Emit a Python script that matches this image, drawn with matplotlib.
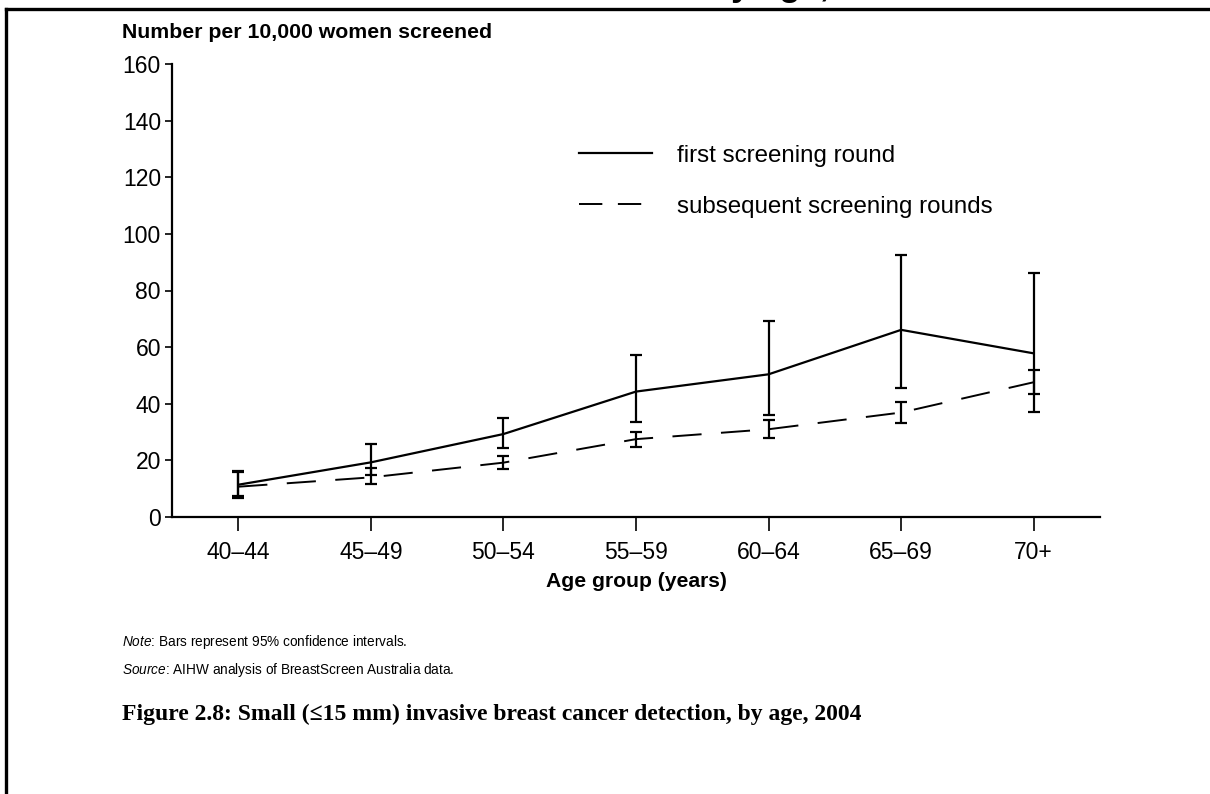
import matplotlib
matplotlib.use("Agg")
import matplotlib.pyplot as plt
from matplotlib.lines import Line2D
import numpy as np

plt.rcParams["font.family"] = ["Liberation Sans", "DejaVu Sans"]
plt.rcParams["mathtext.fontset"] = "custom"
plt.rcParams["mathtext.rm"] = "Liberation Sans"
plt.rcParams["mathtext.it"] = "Liberation Sans:italic"

# data
age_groups = ["40–44", "45–49", "50–54", "55–59", "60–64", "65–69", "70+"]
first_rate = [11.4, 19.3, 29.3, 44.3, 50.4, 66.1, 57.8]
first_low = [7.5, 14.8, 24.5, 33.7, 36.0, 45.5, 37.0]
first_high = [16.3, 25.8, 34.9, 57.2, 69.3, 92.7, 86.1]
subseq_rate = [10.7, 14.0, 19.2, 27.5, 31.0, 36.9, 47.6]
subseq_low = [6.6, 11.6, 16.9, 24.8, 28.0, 33.3, 43.5]
subseq_high = [16.0, 17.2, 21.5, 30.1, 34.3, 40.5, 51.9]
y_ticks = [0, 20, 40, 60, 80, 100, 120, 140, 160]

fig = plt.figure(figsize=(12.1, 7.94), dpi=100)
ax = fig.add_axes([172 / 1210, 1 - 517 / 794, 928 / 1210, 453 / 794])

x = np.arange(len(age_groups))
first_err = [np.subtract(first_rate, first_low), np.subtract(first_high, first_rate)]
subseq_err = [np.subtract(subseq_rate, subseq_low), np.subtract(subseq_high, subseq_rate)]

ax.errorbar(x, first_rate, yerr=first_err, color="black", lw=1.6,
            elinewidth=1.6, capsize=4.5, capthick=1.6)
ax.errorbar(x, subseq_rate, yerr=subseq_err, color="black", lw=1.4,
            linestyle=(0, (15, 10)), elinewidth=1.6, capsize=4.5,
            capthick=1.6)

ax.set_xlim(-0.5, 6.5)
ax.set_ylim(0, 160)
ax.set_xticks(x)
ax.set_xticklabels(age_groups)
ax.set_yticks(y_ticks)
ax.tick_params(axis="y", length=5, width=1.2, labelsize=16.5, pad=3)
ax.tick_params(axis="x", length=10, width=1.2, labelsize=16.5, pad=7)
for side in ["top", "right"]:
    ax.spines[side].set_visible(False)
for side in ["left", "bottom"]:
    ax.spines[side].set_linewidth(1.6)

ax.set_xlabel("Age group (years)", fontsize=15.2, fontweight="bold", labelpad=6)
fig.text(122 / 1210, 1 - 32 / 794, "Number per 10,000 women screened",
         fontsize=15.3, fontweight="bold", va="center", ha="left")

# legend handles (dashed line without caps)
handles = [Line2D([], [], color="black", lw=1.6),
           Line2D([], [], color="black", lw=1.4, linestyle=(0, (12, 8)))]
ax.legend(handles, ["first screening round", "subsequent screening rounds"],
          loc="upper left", bbox_to_anchor=((579 - 172) / 928, 0.822),
          frameon=False, fontsize=17.4, handlelength=3.0, handletextpad=1.05,
          labelspacing=1.2, borderaxespad=0, borderpad=0)

# notes and caption
fig.text(122 / 1210, 1 - 642 / 794,
         r"$\it{Note}$: Bars represent 95% confidence intervals.",
         fontsize=9.8, va="center", ha="left")
fig.text(122 / 1210, 1 - 670 / 794,
         r"$\it{Source}$: AIHW analysis of BreastScreen Australia data.",
         fontsize=9.8, va="center", ha="left")
fig.text(122 / 1210, 1 - 714 / 794,
         "Figure 2.8: Small (≤15 mm) invasive breast cancer detection, by age, 2004",
         fontsize=17, fontweight="bold", va="center", ha="left",
         family=["Liberation Serif", "DejaVu Serif"])

# cut-off heading from the page above (only descenders show)
fig.text(710 / 1210, 1 + 4.0 / 794, "by age, 2004", fontsize=25,
         fontweight="bold", va="baseline", ha="left")

# page frame
fig.add_artist(Line2D([6 / 1210, 1], [1 - 9 / 794, 1 - 9 / 794], color="black", lw=2.4))
fig.add_artist(Line2D([6 / 1210, 6 / 1210], [0, 1 - 9 / 794], color="black", lw=2.4))

fig.savefig("out.png", dpi=100)
